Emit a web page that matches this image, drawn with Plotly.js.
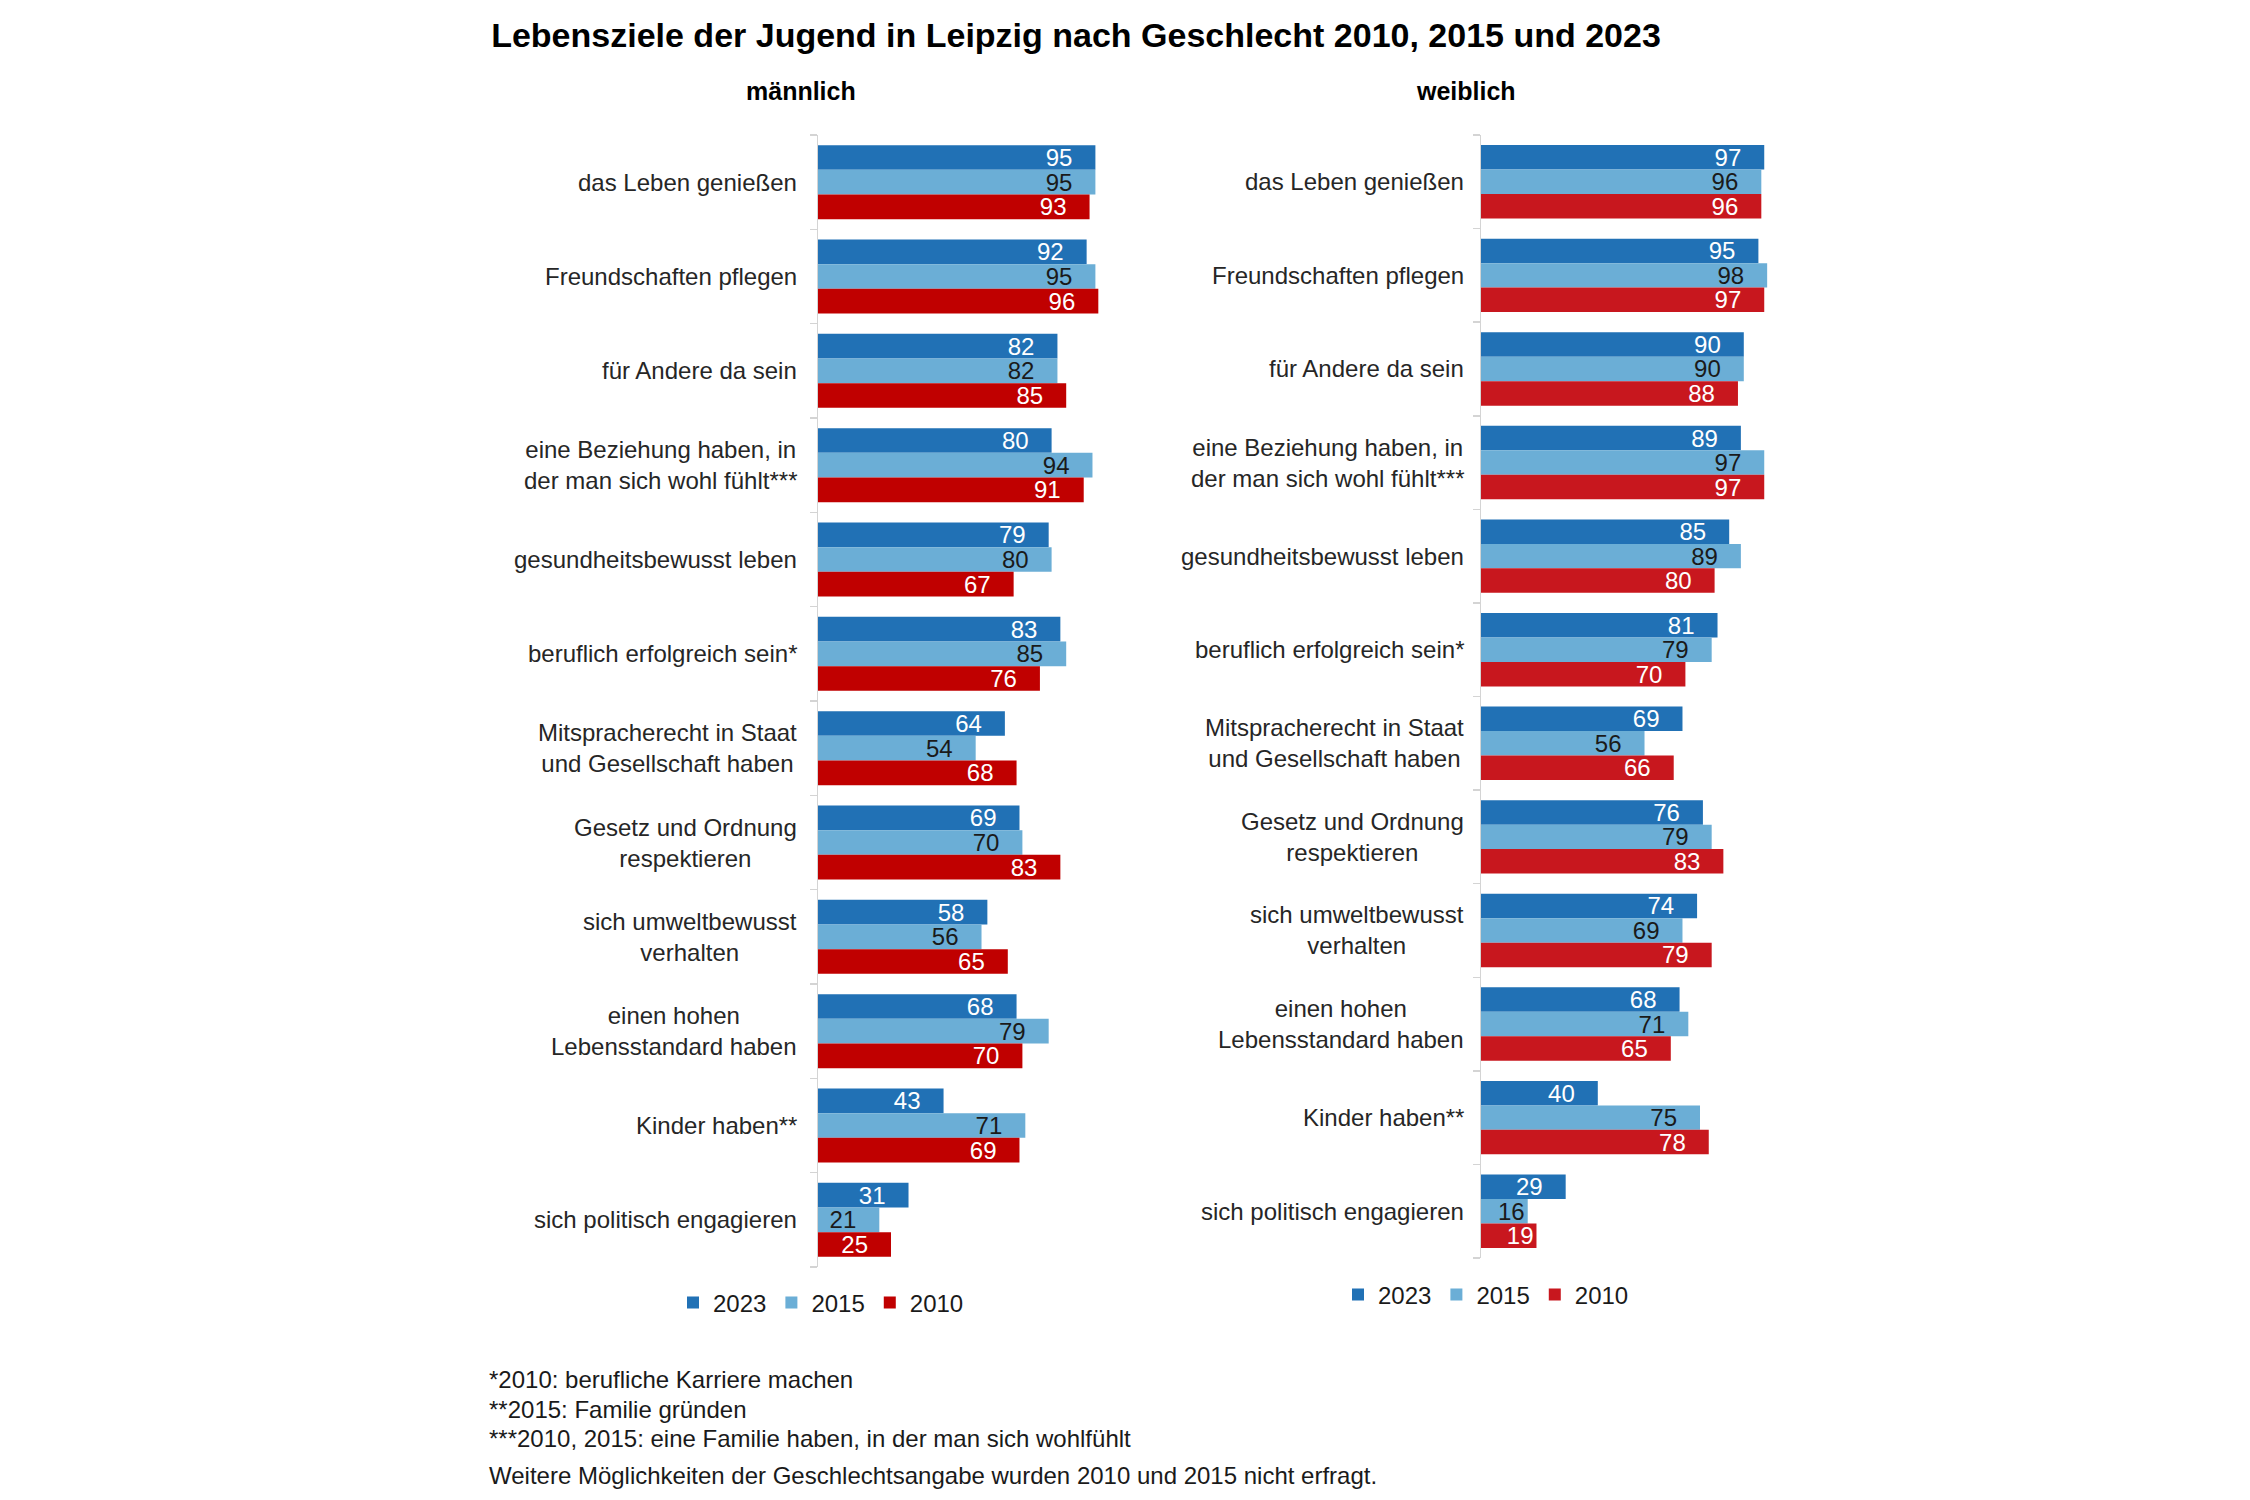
<!DOCTYPE html>
<html>
<head>
<meta charset="utf-8">
<script src="https://cdn.plot.ly/plotly-3.0.1.min.js"></script>
<style>html,body{margin:0;padding:0;background:#fff;}#chart{width:2250px;height:1500px;}</style>
</head>
<body>
<div id="chart"></div>
<script>
const categories = [
  "das Leben genießen",
  "Freundschaften pflegen",
  "für Andere da sein",
  "eine Beziehung haben, in<br>der man sich wohl fühlt***",
  "gesundheitsbewusst leben",
  "beruflich erfolgreich sein*",
  "Mitspracherecht in Staat<br>und Gesellschaft haben",
  "Gesetz und Ordnung<br>respektieren",
  "sich umweltbewusst<br>verhalten",
  "einen hohen<br>Lebensstandard haben",
  "Kinder haben**",
  "sich politisch engagieren"
];
const years = ["2023", "2015", "2010"];

const maennlich2023 = [95, 92, 82, 80, 79, 83, 64, 69, 58, 68, 43, 31];
const maennlich2015 = [95, 95, 82, 94, 80, 85, 54, 70, 56, 79, 71, 21];
const maennlich2010 = [93, 96, 85, 91, 67, 76, 68, 83, 65, 70, 69, 25];

const weiblich2023 = [97, 95, 90, 89, 85, 81, 69, 76, 74, 68, 40, 29];
const weiblich2015 = [96, 98, 90, 97, 89, 79, 56, 79, 69, 71, 75, 16];
const weiblich2010 = [96, 97, 88, 97, 80, 70, 66, 83, 79, 65, 78, 19];

const footnotes = [
  "*2010: berufliche Karriere machen",
  "**2015: Familie gründen",
  "***2010, 2015: eine Familie haben, in der man sich wohlfühlt",
  "Weitere Möglichkeiten der Geschlechtsangabe wurden 2010 und 2015 nicht erfragt."
];

const FONT = "Liberation Sans, Arial, Helvetica, sans-serif";
const W = 2250, H = 1500;
const px = v => v / W;
const py = v => 1 - v / H;

const blue = "#2171b5", light = "#6baed6";
const colorsM = [blue, light, "#c00000"];
const colorsW = [blue, light, "#c8171e"];
const textColors = ["#ffffff", "#1a1a1a", "#ffffff"];

function mk(values, i, colors, xa, ya, legend) {
  return {
    type: "bar", orientation: "h",
    name: years[i],
    x: values, y: categories.map((c, k) => k),
    xaxis: xa, yaxis: ya, legend: legend,
    marker: {color: colors[i], line: {width: 0}},
    text: values.map(v => v < 20 ? String(v) : v + "\u00a0\u00a0\u00a0"),
    textposition: "inside", insidetextanchor: "end",
    textangle: 0, constraintext: "none",
    textfont: {family: FONT, size: 24, color: textColors[i]},
    insidetextfont: {family: FONT, size: 24, color: textColors[i]},
    hoverinfo: "none", cliponaxis: false
  };
}

const data = [
  mk(maennlich2023, 0, colorsM, "x", "y", "legend"),
  mk(maennlich2015, 1, colorsM, "x", "y", "legend"),
  mk(maennlich2010, 2, colorsM, "x", "y", "legend"),
  mk(weiblich2023, 0, colorsW, "x2", "y2", "legend2"),
  mk(weiblich2015, 1, colorsW, "x2", "y2", "legend2"),
  mk(weiblich2010, 2, colorsW, "x2", "y2", "legend2")
];

const xCommon = {range: [0, 100], showgrid: false, zeroline: false, showline: false, showticklabels: false, ticks: "", fixedrange: true};
const yCommon = {
  type: "linear", range: [11.5, -0.5], showgrid: false, zeroline: false,
  showline: true, linecolor: "#d4d4d4", linewidth: 1.5,
  ticks: "outside", ticklen: 7, tickcolor: "#d4d4d4", tickwidth: 1.5,
  tickmode: "array", tickvals: categories.map((c, k) => k - 0.5).concat([11.5]),
  showticklabels: false, fixedrange: true
};

const annotations = [];
categories.forEach((c, k) => {
  annotations.push({xref: "paper", yref: "y", x: px(799), y: k, text: c, showarrow: false,
    xanchor: "right", yanchor: "middle", align: "center",
    font: {family: FONT, size: 24, color: "#262626"}});
  annotations.push({xref: "paper", yref: "y2", x: px(1466), y: k, text: c, showarrow: false,
    xanchor: "right", yanchor: "middle", align: "center",
    font: {family: FONT, size: 24, color: "#262626"}});
});
annotations.push({xref: "paper", yref: "paper", x: px(801), y: py(91), text: "männlich", showarrow: false,
  xanchor: "center", yanchor: "middle", font: {family: FONT, size: 25, color: "#000", weight: "bold"}});
annotations.push({xref: "paper", yref: "paper", x: px(1466), y: py(91), text: "weiblich", showarrow: false,
  xanchor: "center", yanchor: "middle", font: {family: FONT, size: 25, color: "#000", weight: "bold"}});
const footY = [1379, 1409, 1438, 1475];
footnotes.forEach((t, k) => {
  annotations.push({xref: "paper", yref: "paper", x: px(487), y: py(footY[k]), text: t, showarrow: false,
    xanchor: "left", yanchor: "middle", align: "left",
    font: {family: FONT, size: 24, color: "#1a1a1a"}});
});

const legendCommon = {orientation: "h", xanchor: "left", yanchor: "middle",
  font: {family: FONT, size: 24, color: "#1a1a1a"}, bgcolor: "rgba(0,0,0,0)",
  traceorder: "normal", itemwidth: 30, itemclick: false, itemdoubleclick: false};

const layout = {
  width: W, height: H,
  margin: {l: 0, r: 0, t: 0, b: 0},
  paper_bgcolor: "#ffffff", plot_bgcolor: "#ffffff",
  font: {family: FONT, color: "#1a1a1a"},
  title: {text: "Lebensziele der Jugend in Leipzig nach Geschlecht 2010, 2015 und 2023",
    x: px(1076), xanchor: "center", xref: "paper", y: py(35), yanchor: "middle", yref: "paper",
    font: {family: FONT, size: 34, color: "#000", weight: "bold"}},
  barmode: "group", bargap: 0.215, bargroupgap: 0,
  xaxis: Object.assign({}, xCommon, {domain: [px(818), px(1110)], anchor: "y"}),
  yaxis: Object.assign({}, yCommon, {domain: [py(1267), py(135)], anchor: "x"}),
  xaxis2: Object.assign({}, xCommon, {domain: [px(1481), px(1773)], anchor: "y2"}),
  yaxis2: Object.assign({}, yCommon, {domain: [py(1258), py(135)], anchor: "x2"}),
  legend: Object.assign({}, legendCommon, {x: px(673), y: py(1303)}),
  legend2: Object.assign({}, legendCommon, {x: px(1338), y: py(1295)}),
  annotations: annotations,
  showlegend: true
};

Plotly.newPlot("chart", data, layout, {staticPlot: true, displayModeBar: false});
</script>
</body>
</html>
